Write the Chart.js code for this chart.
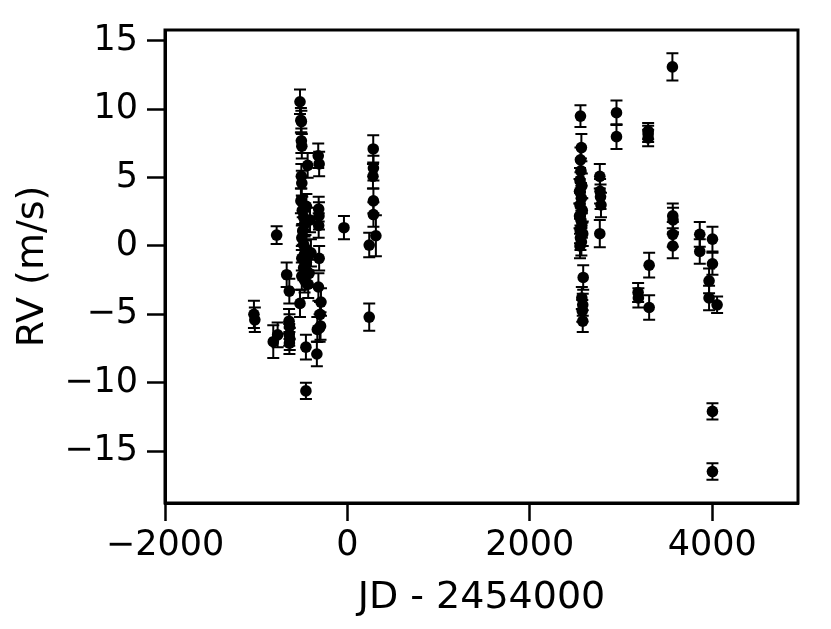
<!DOCTYPE html>
<html>
<head>
<meta charset="utf-8">
<script src="https://cdn.jsdelivr.net/npm/chart.js@4.4.1/dist/chart.umd.min.js"></script>
<style>
  html, body { margin: 0; padding: 0; background: #fff; }
  #wrap { width: 831px; height: 629px; }
</style>
</head>
<body>
<div id="wrap"><canvas id="myChart" width="831" height="629"></canvas></div>
<script>
  // observation time (JD - 2454000), radial velocity and its error (m/s)
  const jd = [
    -1025, -1015,
    -776, -813, -765,
    -666, -637, -640, -635, -638, -632, -636,
    -520, -510, -505, -505, -500, -436, -505, -500, -510, -495, -480, -470, -490, -500,
    -480, -460, -470, -500, -450, -480, -440, -500, -470, -430, -520, -455, -455, -400,
    -410, -420, -450,
    -320, -310, -315, -312, -315, -310, -318, -290, -300, -295, -330, -335, -305,
    -38,
    283, 285, 280, 285, 285, 312, 239, 239,
    2555, 2565, 2555, 2560, 2550, 2570, 2545, 2565, 2550, 2575, 2545, 2560, 2570, 2550,
    2580, 2555, 2565, 2550, 2585, 2570, 2580, 2575, 2580,
    2767, 2770, 2775, 2780, 2767,
    2950, 2950,
    3297, 3297, 3297, 3308, 3187, 3190, 3308,
    3563, 3567, 3570, 3567, 3567,
    3863, 3863, 4002, 4002, 3965, 3965, 4053, 4002, 4002
  ];
  const rv = [
    -5.0, -5.4,
    0.8, -7.0, -6.5,
    -2.1, -3.3, -5.5, -5.9, -6.5, -6.8, -7.1,
    10.55, 9.2, 9.1, 7.7, 7.3, 5.9, 5.1, 4.6, 3.3, 2.6, 2.1, 1.6, 1.1, 0.6,
    0.1, -0.2, -0.6, -0.9, -1.2, -1.6, -1.9, -2.2, -2.5, -2.8, -4.2, -7.4, -10.6, -0.5,
    1.9, -2.0, 2.9,
    6.6, 6.0, 2.7, 2.2, 1.5, -0.9, -3.0, -4.1, -5.0, -5.85, -6.1, -7.9, -6.0,
    1.34,
    7.1, 5.7, 5.1, 3.3, 2.3, 0.75, 0.07, -5.2,
    9.5, 7.2, 6.3, 5.5, 4.8, 4.4, 4.0, 3.5, 3.0, 2.6, 2.2, 1.9, 1.5, 1.2,
    0.9, 0.6, 0.3, 0.0, -2.3, -3.8, -4.3, -4.75, -5.5,
    5.1, 4.0, 3.6, 3.0, 0.9,
    9.75, 8.0,
    8.4, 8.2, 7.9, -1.4, -3.4, -3.8, -4.5,
    13.1, 2.2, 1.9, 0.85, 0.0,
    0.85, -0.4, 0.5, -1.3, -2.55, -3.8, -4.3, -12.1, -16.5
  ];
  const rvErr = [
    1.0, 0.9,
    0.65, 1.2, 0.9,
    0.9, 0.9, 0.9, 0.9, 0.8, 0.8, 0.8,
    0.9, 0.9, 0.8, 0.9, 0.9, 0.9, 0.9, 0.9, 0.9, 1.0, 0.9, 0.9, 1.0, 0.9,
    1.0, 1.0, 1.0, 0.9, 1.0, 0.9, 1.0, 1.0, 0.9, 1.0, 1.0, 0.9, 0.6, 1.0,
    0.9, 1.0, 0.9,
    0.9, 0.9, 0.9, 1.0, 0.9, 0.9, 1.0, 1.0, 0.9, 1.0, 0.9, 0.9, 1.0,
    0.85,
    1.0, 0.9, 0.9, 0.9, 0.9, 1.5, 0.9, 1.0,
    0.8, 1.0, 0.9, 0.9, 0.9, 0.9, 0.9, 0.9, 1.0, 0.9, 0.9, 0.9, 0.9, 1.0,
    0.9, 0.9, 1.0, 0.9, 0.9, 0.8, 0.8, 0.8, 0.8,
    0.9, 0.9, 0.9, 0.9, 1.0,
    0.9, 0.9,
    0.6, 0.6, 0.6, 0.9, 0.7, 0.7, 0.9,
    1.0, 0.9, 0.9, 0.9, 0.9,
    0.9, 0.9, 0.9, 0.8, 0.9, 0.9, 0.6, 0.6, 0.6
  ];
  const xTicks = [-2000, 0, 2000, 4000];
  const yTicks = [-15, -10, -5, 0, 5, 10, 15];

  const points = jd.map((t, i) => ({ x: t, y: rv[i], err: rvErr[i] }));

  // error bars + box round the axes
  const errorBars = {
    id: 'errorBars',
    beforeDatasetsDraw(chart) {
      const ctx = chart.ctx;
      const xs = chart.scales.x, ys = chart.scales.y;
      ctx.save();
      ctx.strokeStyle = '#000';
      ctx.lineWidth = 2;
      points.forEach(p => {
        const px = xs.getPixelForValue(p.x);
        const top = ys.getPixelForValue(p.y + p.err);
        const bot = ys.getPixelForValue(p.y - p.err);
        ctx.beginPath();
        ctx.moveTo(px, top); ctx.lineTo(px, bot);
        ctx.moveTo(px - 6, top); ctx.lineTo(px + 6, top);
        ctx.moveTo(px - 6, bot); ctx.lineTo(px + 6, bot);
        ctx.stroke();
      });
      ctx.restore();
    },
    afterDraw(chart) {
      const a = chart.chartArea, ctx = chart.ctx;
      ctx.save();
      ctx.strokeStyle = '#000';
      ctx.lineWidth = 3;
      ctx.strokeRect(a.left, a.top, a.right - a.left, a.bottom - a.top);
      ctx.restore();
    }
  };

  const ctx = document.getElementById('myChart').getContext('2d');
  const myChart = new Chart(ctx, {
    type: 'scatter',
    data: {
      datasets: [{
        data: points,
        backgroundColor: '#000',
        borderColor: '#000',
        pointRadius: 5.8,
        pointHoverRadius: 5.8,
        borderWidth: 0
      }]
    },
    options: {
      responsive: false,
      animation: false,
      layout: { padding: { top: 30, right: 33, left: 0, bottom: 0 } },
      plugins: { legend: { display: false }, tooltip: { enabled: false } },
      scales: {
        x: {
          type: 'linear',
          min: -2000,
          max: 4940,
          afterBuildTicks: s => { s.ticks = xTicks.map(v => ({ value: v })); },
          afterFit: s => { s.height = 126; },
          ticks: {
            color: '#000',
            font: { family: 'DejaVu Sans', size: 35 },
            padding: 4,
            maxRotation: 0,
            callback: v => String(v).replace('-', '\u2212')
          },
          grid: { drawOnChartArea: false, drawTicks: true, tickLength: 18, tickWidth: 2.5, color: '#000' },
          border: { display: true, color: '#000', width: 3 },
          title: {
            display: true,
            text: 'JD - 2454000',
            color: '#000',
            font: { family: 'DejaVu Sans', size: 38 },
            padding: { top: 0, bottom: 8 }
          }
        },
        y: {
          type: 'linear',
          min: -18.8,
          max: 15.8,
          afterBuildTicks: s => { s.ticks = yTicks.map(v => ({ value: v })); },
          afterFit: s => { s.width = 165; },
          ticks: {
            color: '#000',
            font: { family: 'DejaVu Sans', size: 35 },
            padding: 9,
            callback: v => String(v).replace('-', '\u2212')
          },
          grid: { drawOnChartArea: false, drawTicks: true, tickLength: 18, tickWidth: 2.5, color: '#000' },
          border: { display: true, color: '#000', width: 3 },
          title: {
            display: true,
            text: 'RV (m/s)',
            color: '#000',
            font: { family: 'DejaVu Sans', size: 38 },
            padding: { top: 10, bottom: 0 }
          }
        }
      }
    },
    plugins: [errorBars]
  });
</script>
</body>
</html>
